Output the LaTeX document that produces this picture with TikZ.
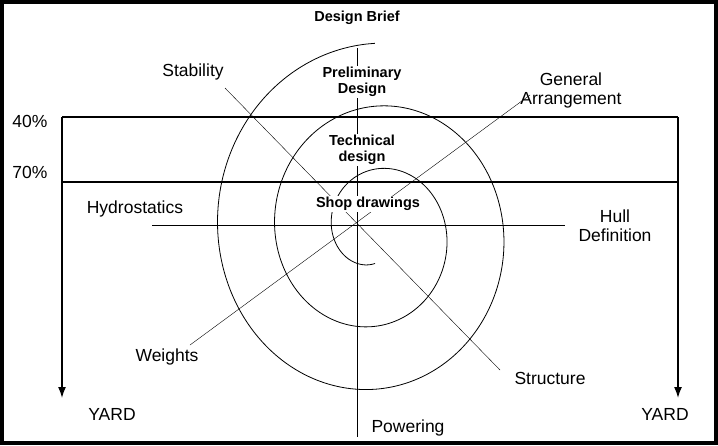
\documentclass[tikz,border=0pt]{standalone}
\usepackage{fontspec}
\setmainfont{Liberation Sans}
\usetikzlibrary{arrows.meta}
\begin{document}
\begin{tikzpicture}[x=1pt,y=-1pt,
 lbl/.style={font=\fontsize{17.5}{19}\selectfont,align=center},
 bld/.style={font=\bfseries\fontsize{14.5}{16}\selectfont,align=center,inner sep=1pt}]
\useasboundingbox (0,0) rectangle (718,445);
\draw[line width=4pt] (2,2) rectangle (716,443);
% spiral
\draw[line width=0.8pt,domain=3.14:18.85,samples=300,smooth,variable=\t]
 plot ({375+9.1*\t*cos(\t r - 90)},{232+9.1*\t*1.1*sin(\t r - 90)});
% axes
\coordinate (c) at (357,225);
\coordinate (top) at (357,48); \coordinate (bot) at (357,437);
\coordinate (l) at (152,225); \coordinate (r) at (565,225);
\coordinate (s1) at (225,88); \coordinate (s2) at (500,370);
\coordinate (g1) at (530,95); \coordinate (g2) at (190,345);
\draw (top)--(bot); \draw (l)--(r); \draw (s1)--(s2); \draw (g1)--(g2);
\coordinate (a1) at (62,117); \coordinate (a2) at (678,117);
\coordinate (b1) at (62,182); \coordinate (b2) at (678,182);
\coordinate (d1) at (62,398); \coordinate (d2) at (678,398);
\draw[line width=1.3pt] (a1)--(a2);
\draw[line width=2.2pt] (b1)--(b2);
\draw[line width=1.5pt,-{Latex[length=11pt,width=8pt]}] (a1)--(d1);
\draw[line width=1.5pt,-{Latex[length=11pt,width=8pt]}] (a2)--(d2);
\node[bld] (db) at (357,18) {Design Brief};
\node[bld,fill=white] (pd) at (362,82) {Preliminary\\Design};
\node[bld,fill=white] (td) at (362,150) {Technical\\design};
\node[bld,fill=white] (sd) at (368,204) {Shop drawings};
\node[lbl] (st) at (193,72) {Stability};
\node[lbl] (ga) at (571,90) {General\\Arrangement};
\node[lbl] (p40) at (30,121) {40\%};
\node[lbl] (p70) at (30,172) {70\%};
\node[lbl] (hy) at (135,209) {Hydrostatics};
\node[lbl] (hd) at (615,226) {Hull\\Definition};
\node[lbl] (we) at (167,357) {Weights};
\node[lbl] (str) at (550,378) {Structure};
\node[lbl] (y1) at (112,414) {YARD};
\node[lbl] (y2) at (665,414) {YARD};
\node[lbl] (pw) at (408,428) {Powering};
\end{tikzpicture}
\end{document}
